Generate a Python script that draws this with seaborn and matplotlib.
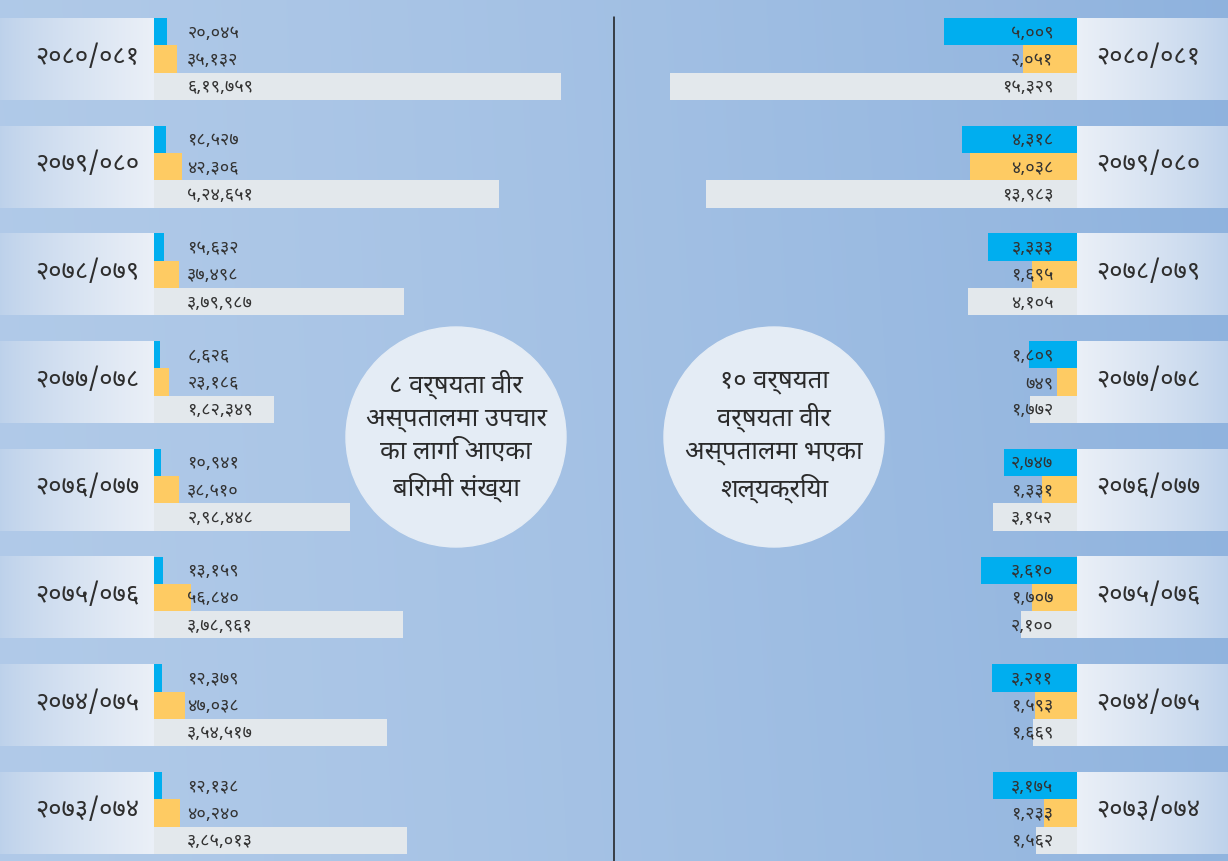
import numpy as np
import pandas as pd
import matplotlib
matplotlib.use("Agg")
import matplotlib.pyplot as plt
from matplotlib.patches import Circle
import seaborn as sns

years = ["२०८०/०८१", "२०७९/०८०", "२०७८/०७९", "२०७७/०७८",
         "२०७६/०७७", "२०७५/०७६", "२०७४/०७५", "२०७३/०७४"]
patients_blue = [20045, 18527, 15632, 8626, 10941, 13159, 12379, 12138]
patients_yellow = [35132, 42306, 37498, 23186, 38510, 56840, 47038, 40240]
patients_grey = [619759, 524651, 379987, 182349, 298448, 378961, 354517, 385013]
surgery_blue = [5009, 4318, 3333, 1809, 2747, 3610, 3211, 3175]
surgery_yellow = [2051, 4038, 1695, 749, 1331, 1707, 1593, 1233]
surgery_grey = [15329, 13983, 4105, 1772, 3152, 2100, 1669, 1562]
series = ["blue", "yellow", "grey"]
colors = ["#00aeef", "#fecb63", "#e3e8ec"]
title_left = "८ वर्षयता वीर\nअस्पतालमा उपचार\nका लागि आएका\nबिरामी संख्या"
title_right = "१० वर्षयता\nवर्षयता वीर\nअस्पतालमा भएका\nशल्यक्रिया"

DEV = str.maketrans("0123456789", "०१२३४५६७८९")


def nepali_number(n):
    # Nepali grouping: last three digits, then pairs
    s = str(n)
    if len(s) > 3:
        head, tail = s[:-3], s[-3:]
        groups = []
        while len(head) > 2:
            groups.insert(0, head[-2:])
            head = head[:-2]
        if head:
            groups.insert(0, head)
        s = ",".join(groups + [tail])
    return s.translate(DEV)


def long_frame(b, y, g):
    return pd.DataFrame({
        "year": years * 3,
        "value": list(b) + list(y) + list(g),
        "series": [s for s in series for _ in years],
    })


sns.set_theme(style="white")
plt.rcParams["font.family"] = ["Noto Sans Devanagari", "DejaVu Sans"]

W, H = 1228, 862
fig = plt.figure(figsize=(W / 100, H / 100), dpi=100)

# background gradient, divider and the two title circles
bg = fig.add_axes([0, 0, 1, 1])
bg.set_xlim(0, W)
bg.set_ylim(H, 0)
bg.axis("off")
gx = np.linspace(0, 1, 256)
gy = np.linspace(0, 1, 256)[:, None]
c_left = np.array([0.69, 0.79, 0.91])
c_right = np.array([0.56, 0.70, 0.87])
mix = gx[None, :] ** 1.3
img = c_left * (1 - mix[..., None]) + c_right * mix[..., None]
img = img * (1 - 0.06 * gy[..., None]) + 0.06 * gy[..., None] * np.array([0.72, 0.82, 0.93])
bg.imshow(img, extent=[0, W, H, 0], aspect="auto", interpolation="bicubic", zorder=0)
bg.plot([614, 614], [18, H], color="#1a1a1a", lw=1.1, zorder=1)
for cx, txt in [(456, title_left), (774, title_right)]:
    bg.add_patch(Circle((cx, 438), 110, color="#e4ecf5", zorder=2))
    bg.text(cx, 436, txt, ha="center", va="center", fontsize=18.5,
            color="#2b2b2b", linespacing=1.36, zorder=3)


def box_gradient(ax, x0, x1, yc, half, light_right):
    ramp = np.linspace(0, 1, 128) ** 0.8
    if not light_right:
        ramp = ramp[::-1]
    dark = np.array([0.74, 0.82, 0.92])
    light = np.array([0.92, 0.94, 0.97])
    row = dark * (1 - ramp[:, None]) + light * ramp[:, None]
    ax.imshow(row[None, :, :], extent=[x0, x1, yc + half, yc - half],
              aspect="auto", interpolation="bicubic", zorder=0.5)


def panel(rect, b, y, g, xlim, side, label_x):
    ax = fig.add_axes(rect)
    ax.patch.set_alpha(0)
    df = long_frame(b, y, g)
    sns.barplot(data=df, x="value", y="year", hue="series", orient="h",
                palette=colors, hue_order=series, order=years, width=0.76,
                saturation=1, linewidth=0, legend=False, ax=ax, zorder=2)
    for k, cont in enumerate(ax.containers):
        vals = [b, y, g][k]
        for bar, v in zip(cont, vals):
            yc = bar.get_y() + bar.get_height() / 2
            if side == "left":
                ax.annotate(nepali_number(v), xy=(0, yc), xytext=(24, 0),
                            textcoords="offset points", ha="left", va="center",
                            fontsize=13, color="#333333", zorder=4)
            else:
                ax.annotate(nepali_number(v), xy=(0, yc), xytext=(-17, 0),
                            textcoords="offset points", ha="right", va="center",
                            fontsize=13, color="#333333", zorder=4)
    # year boxes and labels
    half = 0.76 / 2
    for i, yr in enumerate(years):
        box_gradient(ax, xlim[0] if side == "left" else 0,
                     0 if side == "left" else xlim[1], i, half,
                     light_right=(side == "left"))
        ax.text(label_x, i - 0.03, yr, ha="center", va="center", fontsize=18.5,
                fontweight="light", color="#2e2e2e", zorder=4)
    ax.set_xlim(*xlim)
    ax.set_ylim(7.447, -0.557)
    ax.axis("off")
    return ax


panel([0, 0, 614 / W, 1], patients_blue, patients_yellow, patients_grey,
      (-234500, 700500), "left", -102000)
panel([614 / W, 0, 614 / W, 1], surgery_blue, surgery_yellow, surgery_grey,
      (17437, -5687), "right", -2680)

fig.savefig("out.png", dpi=100)
